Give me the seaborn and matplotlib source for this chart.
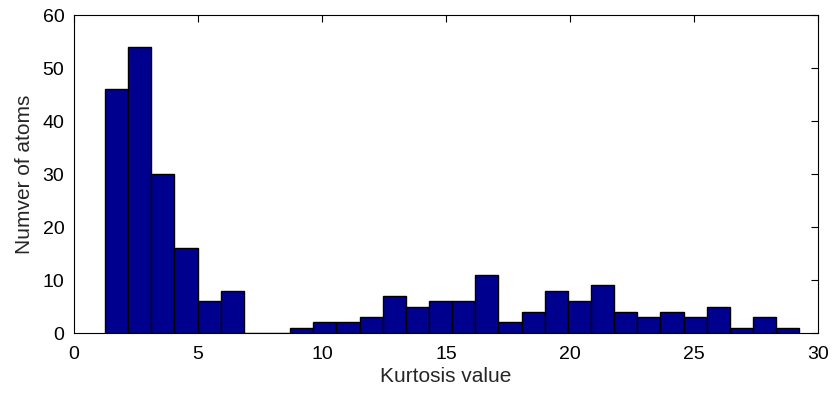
import numpy as np
import pandas as pd
import matplotlib
matplotlib.use("Agg")
import matplotlib.pyplot as plt
import seaborn as sns

# Histogram data
bin_start = 1.25
bin_end = 29.25
counts = [46, 54, 30, 16, 6, 8, 0, 0,
          1, 2, 2, 3, 7, 5, 6, 6, 11, 2, 4, 8, 6, 9, 4, 3, 4, 3, 5, 1, 3, 1]
x_ticks = [0, 5, 10, 15, 20, 25, 30]
y_ticks = [0, 10, 20, 30, 40, 50, 60]
x_label = "Kurtosis value"
y_label = "Numver of atoms"

n_bins = len(counts)
width = (bin_end - bin_start) / n_bins
centers = bin_start + width * (np.arange(n_bins) + 0.5)
df = pd.DataFrame({"value": centers, "count": counts})

sns.set_theme(style="white")
plt.rcParams['font.family'] = ['Liberation Sans', 'DejaVu Sans']

fig = plt.figure(figsize=(8.32, 3.96), dpi=100)
ax = fig.add_axes([0.089, 0.159, 0.894, 0.803])

sns.histplot(data=df, x="value", weights="count", bins=n_bins,
             binrange=(bin_start, bin_end), ax=ax,
             color="#00008F", edgecolor="black", linewidth=1.0, alpha=1.0)

ax.set_xlim(0, 30)
ax.set_ylim(0, 60)
ax.set_xticks(x_ticks)
ax.set_yticks(y_ticks)
ax.set_xlabel(x_label, fontsize=15, labelpad=3)
ax.set_ylabel(y_label, fontsize=15, labelpad=6)
ax.tick_params(axis='both', which='both', direction='in', length=5, width=0.8,
               top=True, right=True, labelsize=14, colors='black')
ax.tick_params(axis='x', pad=9)
ax.tick_params(axis='y', pad=7)
for s in ax.spines.values():
    s.set_visible(True)
    s.set_color('black')
    s.set_linewidth(0.8)

fig.savefig("out.png", dpi=100)
